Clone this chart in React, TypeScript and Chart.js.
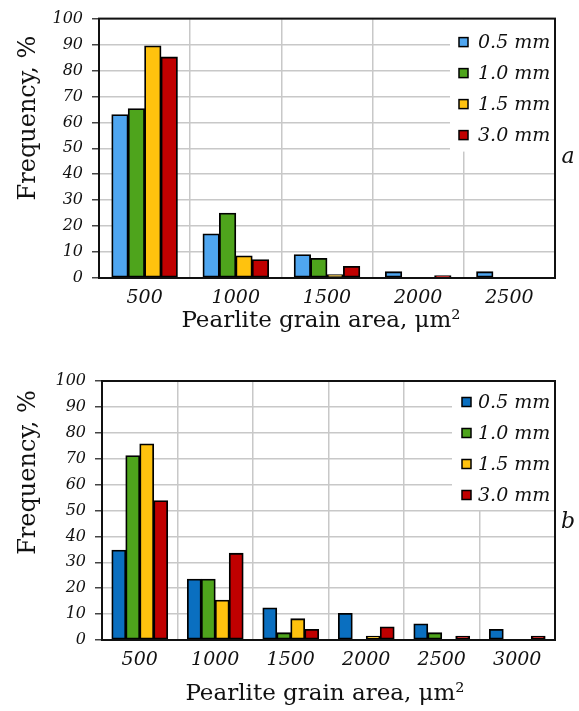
import React, { useEffect, useRef } from "react";
import { Chart, registerables } from "chart.js";

Chart.register(...registerables);

// ---------- data ----------
const seriesLabels = ["0.5 mm", "1.0 mm", "1.5 mm", "3.0 mm"];

const categoriesA = ["500", "1000", "1500", "2000", "2500"];
const a05 = [63, 17, 9, 2.4, 2.4];
const a10 = [65.3, 25, 7.6, 0, 0];
const a15 = [89.5, 8.5, 1.3, 0, 0];
const a30 = [85.2, 7.1, 4.5, 0.9, 0];

const categoriesB = ["500", "1000", "1500", "2000", "2500", "3000"];
const b05 = [34.7, 23.5, 12.4, 10.3, 6.2, 4.1];
const b10 = [71.2, 23.5, 2.8, 0, 2.8, 0];
const b15 = [75.7, 15.4, 8.2, 1.5, 0, 0];
const b30 = [53.8, 33.5, 4.1, 5.1, 1.5, 1.5];

const yMin = 0;
const yMax = 100;
const yStep = 10;

const xTitle = "Pearlite grain area, μm²";
const yTitle = "Frequency, %";

const colorsA = ["#4fa6f0", "#4ea41c", "#ffc20e", "#c00000"];
const colorsB = ["#0a6fc0", "#4ea41c", "#ffc20e", "#c00000"];

const FONT = "'DejaVu Serif', serif";

type Decor = {
  letter: string;
  letterY: number;
  yTitleX: number;
  yTitleY: number;
  xTitleX: number;
  xTitleY: number;
  legendLeft: number;
  legendH: number;
  boxX: number;
  textX: number;
  itemY0: number;
  itemStep: number;
};

function makeDecor(d: Decor) {
  return {
    id: "decor",
    afterDatasetsDraw(chart: any) {
      const { ctx, chartArea: ca } = chart;
      ctx.save();
      // legend background
      ctx.fillStyle = "#ffffff";
      ctx.fillRect(ca.right - d.legendLeft, ca.top + 1, d.legendLeft - 1, d.legendH);
      // frame
      ctx.strokeStyle = "#111";
      ctx.lineWidth = 2;
      ctx.strokeRect(ca.left, ca.top, ca.right - ca.left, ca.bottom - ca.top);
      // legend items
      ctx.font = `italic 19px ${FONT}`;
      ctx.textBaseline = "middle";
      ctx.textAlign = "left";
      chart.data.datasets.forEach((ds: any, i: number) => {
        const y = ca.top + d.itemY0 + i * d.itemStep;
        const bx = ca.right - d.boxX;
        ctx.fillStyle = ds.backgroundColor;
        ctx.fillRect(bx, y - 4.5, 9, 9);
        ctx.lineWidth = 1.5;
        ctx.strokeStyle = "#000";
        ctx.strokeRect(bx, y - 4.5, 9, 9);
        ctx.fillStyle = "#111";
        ctx.fillText(ds.label, ca.right - d.textX, y + 1);
      });
      // panel letter
      ctx.font = `italic 22px ${FONT}`;
      ctx.textAlign = "center";
      ctx.fillText(d.letter, ca.right + 13, ca.top + d.letterY);
      // y title
      ctx.save();
      ctx.translate(d.yTitleX, ca.top + d.yTitleY);
      ctx.rotate(-Math.PI / 2);
      ctx.font = `24px ${FONT}`;
      ctx.textAlign = "center";
      ctx.fillText(yTitle, 0, 0);
      ctx.restore();
      // x title
      ctx.font = `23px ${FONT}`;
      ctx.textAlign = "center";
      ctx.fillText(xTitle, d.xTitleX, ca.bottom + d.xTitleY);
      ctx.restore();
    },
  };
}

function buildChart(
  canvas: HTMLCanvasElement,
  categories: string[],
  series: number[][],
  colors: string[],
  pad: { top: number; right: number },
  yWidth: number,
  xHeight: number,
  catPct: number,
  decor: Decor
) {
  return new Chart(canvas, {
    type: "bar",
    data: {
      labels: categories,
      datasets: series.map((vals, i) => ({
        label: seriesLabels[i],
        data: vals,
        backgroundColor: colors[i],
        borderColor: "#000",
        borderWidth: 1.8,
        borderSkipped: false,
        inflateAmount: 0.4,
        barPercentage: 1,
        categoryPercentage: catPct,
      })),
    },
    options: {
      responsive: false,
      animation: false,
      layout: { padding: { top: pad.top, right: pad.right, left: 0, bottom: 0 } },
      plugins: { legend: { display: false }, tooltip: { enabled: false } },
      scales: {
        x: {
          grid: { color: "#c8c8c8", lineWidth: 1.5, drawTicks: false, offset: true },
          border: { display: false },
          ticks: {
            color: "#111",
            padding: 9,
            font: { family: FONT, size: 19, style: "italic" },
          },
          afterFit: (s: any) => {
            s.height = xHeight;
          },
        },
        y: {
          min: yMin,
          max: yMax,
          grid: { color: "#c8c8c8", lineWidth: 1.5, tickLength: 7, tickColor: "#444" },
          border: { display: false },
          ticks: {
            stepSize: yStep,
            color: "#111",
            padding: 9,
            font: { family: FONT, size: 16, style: "italic" },
          },
          afterFit: (s: any) => {
            s.width = yWidth;
          },
        },
      },
    },
    plugins: [makeDecor(decor)],
  });
}

export default function App() {
  const refA = useRef<HTMLCanvasElement>(null);
  const refB = useRef<HTMLCanvasElement>(null);

  useEffect(() => {
    const cA = buildChart(
      refA.current!,
      categoriesA,
      [a05, a10, a15, a30],
      colorsA,
      { top: 18, right: 24 },
      99,
      67,
      0.72,
      {
        letter: "a",
        letterY: 139,
        yTitleX: 29,
        yTitleY: 99.5,
        xTitleX: 321,
        xTitleY: 43.5,
        legendLeft: 105,
        legendH: 132,
        boxX: 96,
        textX: 77,
        itemY0: 23.5,
        itemStep: 31,
      }
    );
    const cB = buildChart(
      refB.current!,
      categoriesB,
      [b05, b10, b15, b30],
      colorsB,
      { top: 31, right: 24 },
      102,
      71,
      0.74,
      {
        letter: "b",
        letterY: 141,
        yTitleX: 29,
        yTitleY: 91.5,
        xTitleX: 325,
        xTitleY: 54,
        legendLeft: 103,
        legendH: 128,
        boxX: 93,
        textX: 77,
        itemY0: 21,
        itemStep: 31,
      }
    );
    return () => {
      cA.destroy();
      cB.destroy();
    };
  }, []);

  return (
    <div
      style={{
        position: "fixed",
        left: 0,
        top: 0,
        width: 579,
        height: 711,
        background: "#fff",
      }}
    >
      <canvas
        ref={refA}
        width={579}
        height={345}
        style={{ position: "absolute", left: 0, top: 0, width: 579, height: 345 }}
      />
      <canvas
        ref={refB}
        width={579}
        height={361}
        style={{ position: "absolute", left: 0, top: 350, width: 579, height: 361 }}
      />
    </div>
  );
}
